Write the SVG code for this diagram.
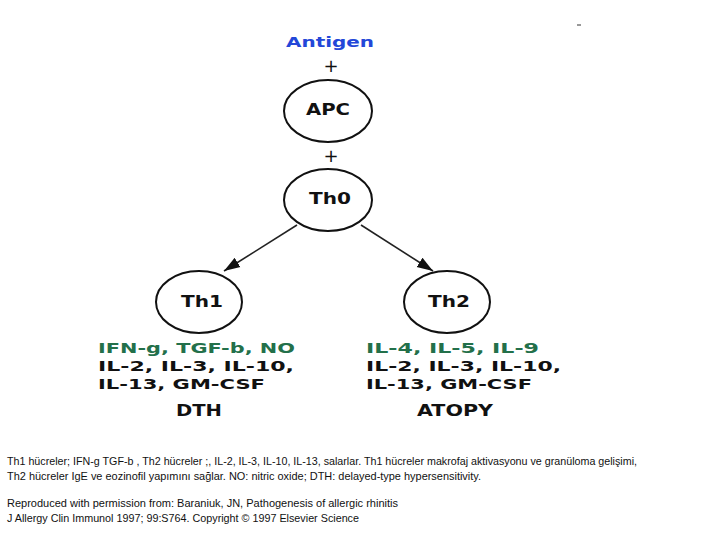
<svg xmlns="http://www.w3.org/2000/svg" width="720" height="540" viewBox="0 0 720 540">
<style>
.node{fill:none;stroke:#111;stroke-width:2}
.lbl{font-family:"DejaVu Sans",Verdana,sans-serif;font-weight:bold;font-size:15px;fill:#111;text-anchor:middle}
.cyt{font-family:"DejaVu Sans",Verdana,sans-serif;font-weight:bold;font-size:14.5px;fill:#111}
.grn{fill:#23704a}
.cap{font-family:"Liberation Sans",Arial,sans-serif;font-size:11px;fill:#111}
.conn{stroke:#222;stroke-width:1.6;fill:none}
.plus{font-family:"DejaVu Sans",sans-serif;font-size:18px;fill:#111;text-anchor:middle}
</style>
<defs>
<marker id="ah" viewBox="0 0 16 12" refX="16" refY="6" markerWidth="16" markerHeight="12" markerUnits="userSpaceOnUse" orient="auto">
<path d="M0,0.5 L16,6 L0,11.5 Z" fill="#111"/>
</marker>
</defs>
<rect width="720" height="540" fill="#fff"/>
<line x1="577" y1="25" x2="581" y2="25" stroke="#333" stroke-width="1"/>
<g id="antigen">
<text x="330" y="47" class="lbl" style="fill:#2347d8;font-size:14px" textLength="88" lengthAdjust="spacingAndGlyphs">Antigen</text>
</g>
<g id="plus1"><text x="331" y="72" class="plus">+</text></g>
<g id="apc">
<ellipse cx="328" cy="111" rx="44" ry="31" class="node"/>
<text x="328" y="115" class="lbl" textLength="44" lengthAdjust="spacingAndGlyphs">APC</text>
</g>
<g id="plus2"><text x="331" y="162" class="plus">+</text></g>
<g id="th0">
<ellipse cx="328" cy="200" rx="44" ry="31" class="node"/>
<text x="330" y="204" class="lbl" textLength="42" lengthAdjust="spacingAndGlyphs">Th0</text>
</g>
<g id="connectors">
<line x1="297" y1="225" x2="224" y2="271" class="conn" marker-end="url(#ah)"/>
<line x1="361" y1="225" x2="433" y2="271" class="conn" marker-end="url(#ah)"/>
</g>
<g id="th1">
<ellipse cx="199" cy="302" rx="43" ry="31" class="node"/>
<text x="202" y="307" class="lbl" textLength="42" lengthAdjust="spacingAndGlyphs">Th1</text>
</g>
<g id="th2">
<ellipse cx="447" cy="302" rx="43" ry="31" class="node"/>
<text x="449" y="307" class="lbl" textLength="42" lengthAdjust="spacingAndGlyphs">Th2</text>
</g>
<g id="th1-cytokines">
<text x="98" y="353" class="cyt grn" textLength="197" lengthAdjust="spacingAndGlyphs">IFN-g, TGF-b, NO</text>
<text x="98" y="371" class="cyt" textLength="196" lengthAdjust="spacingAndGlyphs">IL-2, IL-3, IL-10,</text>
<text x="98" y="389" class="cyt" textLength="167" lengthAdjust="spacingAndGlyphs">IL-13, GM-CSF</text>
</g>
<g id="th2-cytokines">
<text x="366" y="353" class="cyt grn" textLength="173" lengthAdjust="spacingAndGlyphs">IL-4, IL-5, IL-9</text>
<text x="366" y="371" class="cyt" textLength="195" lengthAdjust="spacingAndGlyphs">IL-2, IL-3, IL-10,</text>
<text x="366" y="389" class="cyt" textLength="166" lengthAdjust="spacingAndGlyphs">IL-13, GM-CSF</text>
</g>
<g id="dth"><text x="199" y="416" class="lbl" textLength="46" lengthAdjust="spacingAndGlyphs">DTH</text></g>
<g id="atopy"><text x="455" y="416" class="lbl" textLength="76" lengthAdjust="spacingAndGlyphs">ATOPY</text></g>
<g id="caption">
<text x="7" y="465" class="cap" textLength="630" lengthAdjust="spacingAndGlyphs">Th1 hücreler; IFN-g TGF-b , Th2 hücreler ;, IL-2, IL-3, IL-10, IL-13, salarlar. Th1 hücreler makrofaj aktivasyonu ve granüloma gelişimi,</text>
<text x="7" y="480" class="cap" textLength="474" lengthAdjust="spacingAndGlyphs">Th2 hücreler IgE  ve eozinofil yapımını sağlar. NO: nitric oxide; DTH: delayed-type hypersensitivity.</text>
<text x="7" y="507" class="cap" textLength="391" lengthAdjust="spacingAndGlyphs">Reproduced with permission from: Baraniuk, JN, Pathogenesis of allergic rhinitis</text>
<text x="7" y="522" class="cap" textLength="352" lengthAdjust="spacingAndGlyphs">J Allergy Clin Immunol 1997; 99:S764. Copyright © 1997 Elsevier Science</text>
</g>
</svg>
